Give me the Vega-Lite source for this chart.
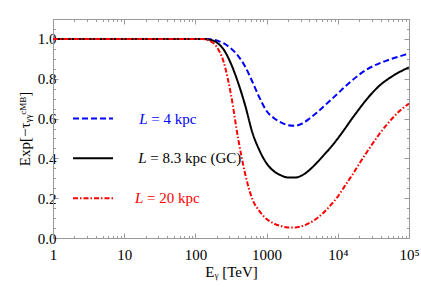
{
  "$schema": "https://vega.github.io/schema/vega-lite/v6.json",
  "autosize": {"type": "none"},
  "padding": {"left": 53, "top": 19, "right": 12, "bottom": 49},
  "width": 356,
  "height": 219,
  "background": "white",
  "config": {
    "view": {"stroke": null},
    "font": "Liberation Serif",
    "axis": {
      "labelFont": "Liberation Serif",
      "titleFont": "Liberation Serif",
      "labelFontSize": 15,
      "titleFontSize": 15,
      "labelColor": "#000",
      "titleColor": "#000",
      "titleFontWeight": "normal",
      "domainColor": "#999",
      "tickColor": "#999",
      "grid": false
    }
  },
  "datasets": {
    "curves": [
      {"E": 1, "T": 1, "s": "L4"}, {"E": 10, "T": 1, "s": "L4"}, {"E": 100, "T": 1, "s": "L4"},
      {"E": 125.9, "T": 0.9998, "s": "L4"}, {"E": 158.5, "T": 0.998, "s": "L4"}, {"E": 199.5, "T": 0.992, "s": "L4"},
      {"E": 251.2, "T": 0.977, "s": "L4"}, {"E": 316.2, "T": 0.952, "s": "L4"}, {"E": 398.1, "T": 0.915, "s": "L4"},
      {"E": 501.2, "T": 0.86, "s": "L4"}, {"E": 631.0, "T": 0.785, "s": "L4"}, {"E": 794.3, "T": 0.705, "s": "L4"},
      {"E": 1000, "T": 0.638, "s": "L4"}, {"E": 1258.9, "T": 0.603, "s": "L4"}, {"E": 1584.9, "T": 0.581, "s": "L4"},
      {"E": 1995.3, "T": 0.567, "s": "L4"}, {"E": 2511.9, "T": 0.564, "s": "L4"}, {"E": 3162.3, "T": 0.575, "s": "L4"},
      {"E": 3981.1, "T": 0.599, "s": "L4"}, {"E": 5011.9, "T": 0.628, "s": "L4"}, {"E": 6309.6, "T": 0.66, "s": "L4"},
      {"E": 7943.3, "T": 0.693, "s": "L4"}, {"E": 10000, "T": 0.726, "s": "L4"}, {"E": 12589, "T": 0.76, "s": "L4"},
      {"E": 15849, "T": 0.791, "s": "L4"}, {"E": 19953, "T": 0.82, "s": "L4"}, {"E": 25119, "T": 0.845, "s": "L4"},
      {"E": 31623, "T": 0.864, "s": "L4"}, {"E": 39811, "T": 0.88, "s": "L4"}, {"E": 50119, "T": 0.893, "s": "L4"},
      {"E": 63096, "T": 0.905, "s": "L4"}, {"E": 79433, "T": 0.916, "s": "L4"}, {"E": 100000, "T": 0.927, "s": "L4"},

      {"E": 1, "T": 1, "s": "L8"}, {"E": 10, "T": 1, "s": "L8"}, {"E": 100, "T": 1, "s": "L8"},
      {"E": 125.9, "T": 0.9995, "s": "L8"}, {"E": 158.5, "T": 0.996, "s": "L8"}, {"E": 199.5, "T": 0.982, "s": "L8"},
      {"E": 251.2, "T": 0.945, "s": "L8"}, {"E": 316.2, "T": 0.875, "s": "L8"}, {"E": 398.1, "T": 0.78, "s": "L8"},
      {"E": 501.2, "T": 0.665, "s": "L8"}, {"E": 631.0, "T": 0.53, "s": "L8"}, {"E": 794.3, "T": 0.44, "s": "L8"},
      {"E": 1000, "T": 0.375, "s": "L8"}, {"E": 1258.9, "T": 0.336, "s": "L8"}, {"E": 1584.9, "T": 0.315, "s": "L8"},
      {"E": 1995.3, "T": 0.304, "s": "L8"}, {"E": 2511.9, "T": 0.304, "s": "L8"}, {"E": 3162.3, "T": 0.315, "s": "L8"},
      {"E": 3981.1, "T": 0.341, "s": "L8"}, {"E": 5011.9, "T": 0.376, "s": "L8"}, {"E": 6309.6, "T": 0.415, "s": "L8"},
      {"E": 7943.3, "T": 0.455, "s": "L8"}, {"E": 10000, "T": 0.5, "s": "L8"}, {"E": 12589, "T": 0.549, "s": "L8"},
      {"E": 15849, "T": 0.6, "s": "L8"}, {"E": 19953, "T": 0.648, "s": "L8"}, {"E": 25119, "T": 0.694, "s": "L8"},
      {"E": 31623, "T": 0.735, "s": "L8"}, {"E": 39811, "T": 0.77, "s": "L8"}, {"E": 50119, "T": 0.797, "s": "L8"},
      {"E": 63096, "T": 0.82, "s": "L8"}, {"E": 79433, "T": 0.84, "s": "L8"}, {"E": 100000, "T": 0.857, "s": "L8"},

      {"E": 1, "T": 1, "s": "L20"}, {"E": 10, "T": 1, "s": "L20"}, {"E": 100, "T": 1, "s": "L20"},
      {"E": 125.9, "T": 0.999, "s": "L20"}, {"E": 158.5, "T": 0.99, "s": "L20"}, {"E": 199.5, "T": 0.96, "s": "L20"},
      {"E": 251.2, "T": 0.88, "s": "L20"}, {"E": 316.2, "T": 0.72, "s": "L20"}, {"E": 398.1, "T": 0.5, "s": "L20"},
      {"E": 501.2, "T": 0.32, "s": "L20"}, {"E": 631.0, "T": 0.195, "s": "L20"}, {"E": 794.3, "T": 0.135, "s": "L20"},
      {"E": 1000, "T": 0.095, "s": "L20"}, {"E": 1258.9, "T": 0.073, "s": "L20"}, {"E": 1584.9, "T": 0.06, "s": "L20"},
      {"E": 1995.3, "T": 0.053, "s": "L20"}, {"E": 2511.9, "T": 0.053, "s": "L20"}, {"E": 3162.3, "T": 0.06, "s": "L20"},
      {"E": 3981.1, "T": 0.075, "s": "L20"}, {"E": 5011.9, "T": 0.097, "s": "L20"}, {"E": 6309.6, "T": 0.127, "s": "L20"},
      {"E": 7943.3, "T": 0.165, "s": "L20"}, {"E": 10000, "T": 0.208, "s": "L20"}, {"E": 12589, "T": 0.262, "s": "L20"},
      {"E": 15849, "T": 0.315, "s": "L20"}, {"E": 19953, "T": 0.372, "s": "L20"}, {"E": 25119, "T": 0.427, "s": "L20"},
      {"E": 31623, "T": 0.48, "s": "L20"}, {"E": 39811, "T": 0.53, "s": "L20"}, {"E": 50119, "T": 0.574, "s": "L20"},
      {"E": 63096, "T": 0.614, "s": "L20"}, {"E": 79433, "T": 0.648, "s": "L20"}, {"E": 100000, "T": 0.675, "s": "L20"}
    ],
    "legend": [
      {"x1": 1.91, "x2": 6.96, "xt": 16.3, "y": 0.6, "s": "L4", "rest": "= 4 kpc"},
      {"x1": 1.91, "x2": 6.96, "xt": 15.8, "y": 0.4, "s": "L8", "rest": "= 8.3 kpc (GC)"},
      {"x1": 1.91, "x2": 6.96, "xt": 14.2, "y": 0.2, "s": "L20", "rest": "= 20 kpc"}
    ]
  },
  "resolve": {"axis": {"x": "independent", "y": "independent"}},
  "layer": [
    {
      "data": {"name": "curves"},
      "mark": {"type": "line", "strokeWidth": 2, "interpolate": "monotone", "clip": true},
      "encoding": {
        "x": {
          "field": "E", "type": "quantitative",
          "scale": {"type": "log", "domain": [1, 100000], "nice": false},
          "axis": {
            "orient": "bottom",
            "title": "Eᵧ [TeV]",
            "titlePadding": 0,
            "values": [1,2,3,4,5,6,7,8,9,10,20,30,40,50,60,70,80,90,100,200,300,400,500,600,700,800,900,1000,2000,3000,4000,5000,6000,7000,8000,9000,10000,20000,30000,40000,50000,60000,70000,80000,90000,100000],
            "labelExpr": "datum.value == 1 ? '1' : datum.value == 10 ? '10' : datum.value == 100 ? '100' : datum.value == 1000 ? '1000' : datum.value == 10000 ? '10⁴' : datum.value == 100000 ? '10⁵' : ''",
            "tickSize": {"condition": {"test": "indexof([1,10,100,1000,10000,100000], datum.value) >= 0", "value": -5}, "value": -2.5},
            "labelPadding": 14,
            "labelFlush": false,
            "labelOverlap": false
          }
        },
        "y": {
          "field": "T", "type": "quantitative",
          "scale": {"domain": [0, 1.1], "nice": false, "zero": false},
          "axis": {
            "orient": "left",
            "title": "Exp[−τᵧᵧᶜᴹᴮ]",
            "titlePadding": 5,
            "values": [0,0.05,0.1,0.15,0.2,0.25,0.3,0.35,0.4,0.45,0.5,0.55,0.6,0.65,0.7,0.75,0.8,0.85,0.9,0.95,1,1.05,1.1],
            "labelExpr": "abs(datum.value*5 - round(datum.value*5)) < 1e-6 ? format(datum.value, '.1f') : ''",
            "tickSize": {"condition": {"test": "abs(datum.value*5 - round(datum.value*5)) < 1e-6", "value": -5}, "value": -2.5},
            "labelPadding": 2,
            "labelFlush": false,
            "labelOverlap": false
          }
        },
        "color": {
          "field": "s", "type": "nominal",
          "scale": {"domain": ["L4", "L8", "L20"], "range": ["#0000ff", "#000000", "#ff0000"]},
          "legend": null
        },
        "strokeDash": {
          "field": "s", "type": "nominal",
          "scale": {"domain": ["L4", "L8", "L20"], "range": [[6, 3], [1, 0], [5, 2, 1.5, 2]]},
          "legend": null
        }
      }
    },
    {
      "data": {"name": "curves"},
      "mark": {"type": "point", "opacity": 0},
      "encoding": {
        "x": {
          "field": "E", "type": "quantitative",
          "axis": {
            "orient": "top", "title": null, "labels": false,
            "values": [1,2,3,4,5,6,7,8,9,10,20,30,40,50,60,70,80,90,100,200,300,400,500,600,700,800,900,1000,2000,3000,4000,5000,6000,7000,8000,9000,10000,20000,30000,40000,50000,60000,70000,80000,90000,100000],
            "tickSize": {"condition": {"test": "indexof([1,10,100,1000,10000,100000], datum.value) >= 0", "value": -5}, "value": -2.5}
          }
        },
        "y": {
          "field": "T", "type": "quantitative",
          "axis": {
            "orient": "right", "title": null, "labels": false,
            "values": [0,0.05,0.1,0.15,0.2,0.25,0.3,0.35,0.4,0.45,0.5,0.55,0.6,0.65,0.7,0.75,0.8,0.85,0.9,0.95,1,1.05,1.1],
            "tickSize": {"condition": {"test": "abs(datum.value*5 - round(datum.value*5)) < 1e-6", "value": -5}, "value": -2.5}
          }
        }
      }
    },
    {
      "data": {"name": "legend"},
      "mark": {"type": "rule", "strokeWidth": 2},
      "encoding": {
        "x": {"field": "x1", "type": "quantitative", "axis": null},
        "x2": {"field": "x2"},
        "y": {"field": "y", "type": "quantitative", "axis": null},
        "color": {"field": "s", "type": "nominal", "legend": null},
        "strokeDash": {"field": "s", "type": "nominal", "legend": null}
      }
    },
    {
      "data": {"name": "legend"},
      "mark": {"type": "text", "align": "left", "baseline": "middle", "fontStyle": "italic", "fontSize": 15, "font": "Liberation Serif"},
      "encoding": {
        "x": {"field": "xt", "type": "quantitative", "axis": null},
        "y": {"field": "y", "type": "quantitative", "axis": null},
        "text": {"value": "L"},
        "color": {"field": "s", "type": "nominal", "legend": null}
      }
    },
    {
      "data": {"name": "legend"},
      "mark": {"type": "text", "align": "left", "baseline": "middle", "dx": 12, "fontSize": 15, "font": "Liberation Serif"},
      "encoding": {
        "x": {"field": "xt", "type": "quantitative", "axis": null},
        "y": {"field": "y", "type": "quantitative", "axis": null},
        "text": {"field": "rest"},
        "color": {"field": "s", "type": "nominal", "legend": null}
      }
    }
  ]
}
